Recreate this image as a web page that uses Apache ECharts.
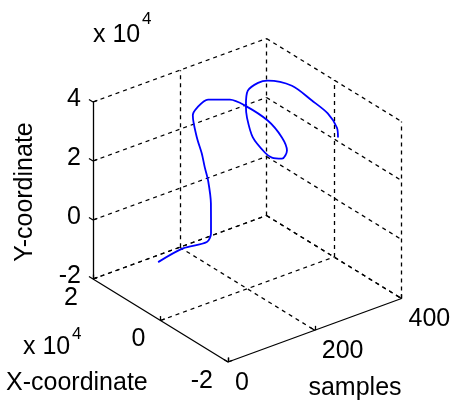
<!DOCTYPE html>
<html><head><meta charset="utf-8">
<script src="https://cdn.jsdelivr.net/npm/echarts@6/dist/echarts.min.js"></script>
<style>html,body{margin:0;padding:0;background:#fff}#c{width:454px;height:404px}</style>
</head><body><div id="c"></div>
<script>
// ---- data (X and Y coordinates in units of 10^4) ----
const samples = [0,55,110,118,124,130,134,138,143,150,165,185,220,230,240,248,255,260,263,266,272,278,284,290,305,325,345,360,370,378,382];
const xCoord  = [0.07,0.04,0.04,0.02,0.10,0.26,0.41,0.55,0.76,0.97,1.04,0.97,0.77,0.45,-0.10,-0.41,-0.47,-0.26,0.08,0.32,0.76,1.01,1.12,1.14,1.03,1.00,0.54,0.14,-0.20,-0.37,-0.35];
const yCoord  = [-0.07,0.12,0.04,0.31,1.23,1.86,2.18,2.53,2.90,3.46,3.59,3.81,3.76,3.73,3.55,3.16,2.72,2.27,2.05,2.03,2.21,2.67,2.97,3.43,3.69,3.68,3.72,3.42,3.17,2.76,2.39];
const sTicks = [0,200,400];
const xTicks = [-2,0,2];
const yTicks = [-2,0,2,4];
const sTickLabels = ['0','200','400'];
const xTickLabels = ['-2','0','2'];
const yTickLabels = ['-2','0','2','4'];

// ---- view (oblique 3D box projection) ----
const VIEW = {origin:[228,362], sEdge:[173.5,-63.5], xEdge:[-135,-83], zEdge:[0,-177]};
const S0=sTicks[0], S1=sTicks[sTicks.length-1];
const X0=xTicks[0], X1=xTicks[xTicks.length-1];
const Z0=yTicks[0], Z1=yTicks[yTicks.length-1];
function proj(s,x,z){
  const fs=(s-S0)/(S1-S0), fx=(x-X0)/(X1-X0), fz=(z-Z0)/(Z1-Z0);
  return [VIEW.origin[0]+fs*VIEW.sEdge[0]+fx*VIEW.xEdge[0]+fz*VIEW.zEdge[0],
          VIEW.origin[1]+fs*VIEW.sEdge[1]+fx*VIEW.xEdge[1]+fz*VIEW.zEdge[1]];
}
function seg(a,b){return {coords:[proj.apply(null,a),proj.apply(null,b)]};}

// dashed grid on back walls and floor
const grid=[];
yTicks.forEach(z=>grid.push(seg([S0,X1,z],[S1,X1,z])));
sTicks.slice(1).forEach(s=>grid.push(seg([s,X1,Z0],[s,X1,Z1])));
yTicks.forEach(z=>grid.push(seg([S1,X1,z],[S1,X0,z])));
xTicks.slice(0,-1).forEach(x=>grid.push(seg([S1,x,Z0],[S1,x,Z1])));
sTicks.slice(1).forEach(s=>grid.push(seg([s,X1,Z0],[s,X0,Z0])));
xTicks.slice(1).forEach(x=>grid.push(seg([S0,x,Z0],[S1,x,Z0])));

// solid axes + ticks
const axes=[seg([S0,X1,Z0],[S0,X1,Z1]), seg([S0,X1,Z0],[S0,X0,Z0]), seg([S0,X0,Z0],[S1,X0,Z0])];
const ts=(S1-S0)*0.025, tx=(X1-X0)*0.03, tz=(Z1-Z0)*0.025;
yTicks.forEach(z=>{axes.push(seg([S0,X1,z],[S0+ts,X1,z]));axes.push(seg([S0,X1,z],[S0,X1+tx,z]));});
xTicks.forEach(x=>{axes.push(seg([S0,x,Z0],[S0,x,Z0+tz]));axes.push(seg([S0,x,Z0],[S0+ts,x,Z0]));});
sTicks.forEach(s=>{axes.push(seg([s,X0,Z0],[s,X0,Z0+tz]));axes.push(seg([s,X0,Z0],[s,X0+tx,Z0]));});

const curve=samples.map((s,i)=>proj(s,xCoord[i],yCoord[i]));

const FONT='"Liberation Sans", Arial, sans-serif';
const FS=25;
const texts=[];
function txt(x,y,t,align,extra){texts.push(Object.assign({type:'text',x:x,y:y,style:{text:t,fill:'#000',font:FS+'px '+FONT,textAlign:align||'center',textVerticalAlign:'middle'}},extra||{}));}
yTicks.forEach((z,i)=>{const a=proj(S0,X1,z);txt(a[0]-12,a[1]-3,yTickLabels[i],'right');});
xTicks.forEach((x,i)=>{const a=proj(S0,x,Z0);txt(a[0]-15,a[1]+19,xTickLabels[i],'right');});
sTicks.forEach((s,i)=>{const a=proj(s,X0,Z0);txt(a[0]+7,a[1]+21,sTickLabels[i],'left');});
txt(93,35,'x 10','left');
texts.push({type:'text',x:142,y:19,style:{text:'4',fill:'#000',font:'17px '+FONT,textAlign:'left',textVerticalAlign:'middle'}});
txt(23,347,'x 10','left');
texts.push({type:'text',x:72,y:334,style:{text:'4',fill:'#000',font:'17px '+FONT,textAlign:'left',textVerticalAlign:'middle'}});
txt(6,383.5,'X-coordinate','left');
txt(355,388.5,'samples','center');
txt(25,192,'Y-coordinate','center',{rotation:Math.PI/2});

const chart=echarts.init(document.getElementById('c'),null,{renderer:'canvas'});
chart.setOption({
  animation:false,
  backgroundColor:'#ffffff',
  grid:{left:0,top:0,right:0,bottom:0},
  xAxis:{type:'value',min:0,max:454,show:false},
  yAxis:{type:'value',min:0,max:404,inverse:true,show:false},
  series:[
    {type:'lines',coordinateSystem:'cartesian2d',data:grid,silent:true,
     lineStyle:{color:'#000',width:1.3,opacity:1,type:[4,4]}},
    {type:'lines',coordinateSystem:'cartesian2d',data:axes,silent:true,
     lineStyle:{color:'#000',width:1.3,opacity:1,type:'solid'}},
    {type:'line',data:curve,showSymbol:false,smooth:0.3,silent:true,
     lineStyle:{color:'#0000ff',width:1.8}}
  ],
  graphic:texts
});
</script></body></html>
